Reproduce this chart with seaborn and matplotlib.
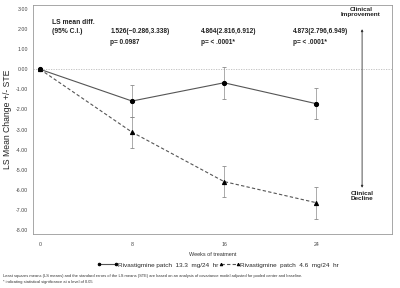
import matplotlib
matplotlib.use('Agg')
from matplotlib import pyplot as plt
import pandas as pd
import seaborn as sns
import numpy as np

# LS mean change from baseline and standard errors
weeks = [0, 8, 16, 24]
high_label = 'Rivastigmine patch  13.3  mg/24  hr'
low_label = 'Rivastigmine  patch  4.6  mg/24  hr'
high_mean = [0.0, -1.58, -0.67, -1.71]
high_ste = [0.0, 0.78, 0.80, 0.77]
low_mean = [0.0, -3.13, -5.59, -6.64]
low_ste = [0.0, 0.78, 0.79, 0.80]

diff_text = ['1.526(\u22120.286,3.338)', '4.864(2.816,6.912)', '4.873(2.796,6.949)']
p_text = ['p= 0.0987', 'p= < .0001*', 'p= < .0001*']
y_ticks = [3, 2, 1, 0, -1, -2, -3, -4, -5, -6, -7, -8]

footnote1 = ('Least squares means (LS means) and the standard errors of the LS means (STE) are based on '
             'an analysis of covariance model adjusted for pooled center and baseline.')
footnote2 = '* indicating statistical significance at a level of 0.05'


def _build_frame() -> pd.DataFrame:
    high = pd.DataFrame({'week': weeks, 'mean': high_mean, 'ste': high_ste, 'group': high_label})
    low = pd.DataFrame({'week': weeks, 'mean': low_mean, 'ste': low_ste, 'group': low_label})
    return pd.concat([high, low], ignore_index=True)


def plot_change(fig_location: str = 'out.png'):
    sns.set_style('white')
    plt.rcParams['font.family'] = ['Liberation Sans', 'DejaVu Sans']
    df = _build_frame()

    fig = plt.figure(figsize=(4, 2.88), dpi=100)
    ax = fig.add_axes([0.0825, 0.1875, 0.8975, 0.795])

    ax.axhline(0, color='#bbbbbb', lw=0.6, ls=(0, (1.5, 1.5)), zorder=1)

    # STE bars (no bar at baseline)
    for _, grp in df[df['week'] > 0].groupby('group'):
        ax.errorbar(grp['week'], grp['mean'], yerr=grp['ste'], fmt='none', ecolor='#8a8a8a',
                    elinewidth=0.5, capsize=1.6, capthick=0.6, zorder=2)

    sns.lineplot(data=df, x='week', y='mean', hue='group', style='group', ax=ax,
                 hue_order=[high_label, low_label], style_order=[high_label, low_label],
                 palette={high_label: '#555555', low_label: '#555555'},
                 dashes={high_label: '', low_label: (3, 2)},
                 markers={high_label: 'o', low_label: '^'},
                 markersize=3.0, markeredgecolor='black', markerfacecolor='black',
                 linewidth=0.8, zorder=3)

    ax.set_xlim(-0.61, 30.6)
    ax.set_ylim(-8.2, 3.2)
    ax.set_xticks([0, 8, 16, 24])
    ax.set_yticks(y_ticks)
    ax.set_yticklabels([f'{v:.2f}' for v in y_ticks])
    ax.tick_params(axis='both', labelsize=3.8, length=1.5, width=0.4, colors='#444444', pad=2)
    ax.tick_params(axis='x', pad=4)
    for spine in ax.spines.values():
        spine.set_color('#999999')
        spine.set_linewidth(0.6)

    ax.set_xlabel('Weeks of treatment', fontsize=4, color='#333333', labelpad=4)
    ax.set_ylabel('LS Mean Change +/- STE', fontsize=6.2, color='#222222', labelpad=3)

    # annotations
    ax.text(1.04, 2.35, 'LS mean diff.', fontsize=4.9, fontweight='bold', va='center', color='#222222')
    ax.text(1.04, 1.86, '(95% C.I.)', fontsize=4.9, fontweight='bold', va='center', color='#222222')
    for x, d, p in zip([6.1, 14.0, 22.0], diff_text, p_text):
        ax.text(x, 1.86, d, fontsize=4.7, fontweight='bold', va='center', color='#222222')
        ax.text(x, 1.31, p, fontsize=4.7, fontweight='bold', va='center', color='#222222')

    ax.text(27.9, 3.08, 'Clinical\nImprovement', fontsize=4.6, fontweight='bold', ha='center', va='top',
            linespacing=1.0, color='#222222')
    ax.text(28.0, -6.05, 'Clinical\nDecline', fontsize=4.6, fontweight='bold', ha='center', va='top',
            linespacing=1.05, color='#222222')
    ax.annotate('', xy=(28.0, 2.0), xytext=(28.0, -5.9),
                arrowprops=dict(arrowstyle='<|-|>', color='#333333', lw=0.6,
                                mutation_scale=3, shrinkA=0, shrinkB=0))

    sns.move_legend(ax, 'center', bbox_to_anchor=(0.545, 0.08), bbox_transform=fig.transFigure,
                    ncol=2, title=None, frameon=False, fontsize=4.6, handlelength=3.2,
                    handletextpad=0.1, columnspacing=0.1, numpoints=2, markerscale=0.6)

    fig.text(0.008, 0.042, footnote1, fontsize=2.9, color='#333333', va='center')
    fig.text(0.008, 0.021, footnote2, fontsize=2.9, color='#333333', va='center')

    fig.savefig(fig_location, dpi=100)


if __name__ == '__main__':
    plot_change('out.png')
